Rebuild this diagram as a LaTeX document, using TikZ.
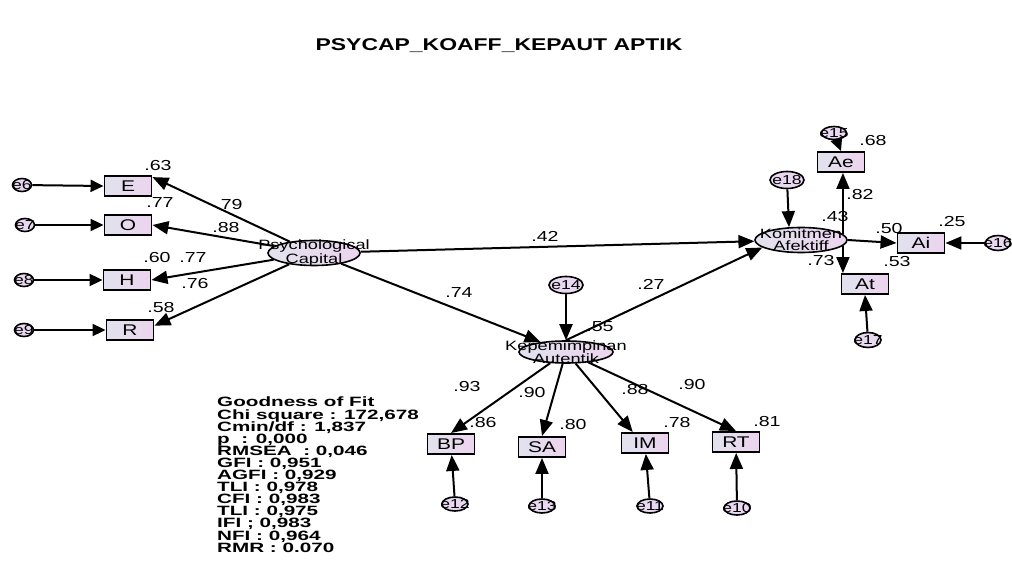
\documentclass[tikz,border=0pt]{standalone}
\usepackage{fontspec}
\setmainfont{Liberation Sans}[FakeStretch=1.35]
\newfontfamily\goffont{Liberation Sans}[FakeStretch=1.53]
\usetikzlibrary{arrows.meta,shapes.geometric,calc}
\definecolor{boxL}{HTML}{E2E2EE}
\definecolor{boxR}{HTML}{ECD4EE}
\definecolor{errF}{HTML}{E8D8F0}
\begin{document}
\begin{tikzpicture}[x=1pt,y=-1pt,
  obs/.style={draw, line width=1.9pt, minimum width=47pt, minimum height=20pt, inner sep=0pt, left color=boxL, right color=boxR, font=\fontsize{15.5}{15}\selectfont},
  lat/.style={ellipse, draw, line width=1.6pt, minimum width=92pt, minimum height=25pt, inner sep=0pt, left color=boxL, right color=boxR},
  lattxt/.style={align=center, font=\fontsize{13.5}{12}\selectfont, inner sep=0pt},
  err/.style={ellipse, draw, line width=1.6pt, fill=errF, minimum width=19pt, minimum height=13pt, inner sep=0pt},
  errbig/.style={err, minimum width=34pt, minimum height=17pt},
  errtxt/.style={font=\fontsize{13}{13}\selectfont, inner sep=0pt},
  val/.style={font=\fontsize{14.5}{14}\selectfont, inner sep=0pt},
  arr/.style={line width=2pt, -{Triangle[length=16pt,width=13pt]}},
  arrs/.style={line width=2pt, -{Triangle[length=13pt,width=12pt]}},
]
\useasboundingbox (0,0) rectangle (1012,585);
\node[font=\bfseries\fontsize{17}{17}\selectfont] (title) at (499,46) {PSYCAP\_KOAFF\_KEPAUT APTIK};

% observed boxes
\node[obs] (E) at (128,186) {E};
\node[obs] (O) at (128,225) {O};
\node[obs] (H) at (127,280) {H};
\node[obs] (R) at (130,330) {R};
\node[obs] (Ae) at (841,162) {Ae};
\node[obs] (Ai) at (921,243) {Ai};
\node[obs] (At) at (865,284) {At};
\node[obs] (BP) at (451,444) {BP};
\node[obs] (SA) at (542,447) {SA};
\node[obs] (IM) at (645,443) {IM};
\node[obs] (RT) at (736,442) {RT};

% latent
\node[lat] (psy) at (314,253) {};
\node[lat] (kom) at (801,240) {};
\node[lat, minimum width=94pt, minimum height=22pt] (kep) at (566,352) {};

% errors
\node[err] (e6) at (22,185) {};
\node[err] (e7) at (25,225) {};
\node[err] (e8) at (24,280) {};
\node[err] (e9) at (24,330) {};
\node[err, minimum width=25pt] (e15) at (834,133) {};
\node[errbig] (e18) at (787,180) {};
\node[errbig] (e14) at (566,285) {};
\node[err, minimum width=26pt, minimum height=15pt] (e17) at (868,340) {};
\node[err, minimum width=25pt, minimum height=15pt] (e16) at (998,243) {};
\node[err, minimum width=26pt, minimum height=14pt] (e12) at (455,504) {};
\node[err, minimum width=26pt, minimum height=14pt] (e13) at (542,506) {};
\node[err, minimum width=26pt, minimum height=14pt] (e11) at (650,506) {};
\node[err, minimum width=26pt, minimum height=14pt] (e10) at (737,508) {};

% connectors
\draw[arrs] (e6) -- (E.west);
\draw[arrs] (e7) -- (O.west);
\draw[arrs] (e8) -- (H.west);
\draw[arrs] (e9) -- (R.west);
\draw[arr] (psy) -- (E.20);
\draw[arr] (psy) -- (O.east);
\draw[arr] (psy) -- (H.east);
\draw[arr] (psy) -- (R.10);
\draw[arr] (psy) -- (kom);
\draw[arr] (psy) -- (kep);
\draw[arr] (kep.north) -- (kom.191);
\draw[arr] (e14) -- (kep);
\draw[arr] (kep) -- (BP.north);
\draw[arr] (kep) -- (SA.north);
\draw[arr] (kep) -- ($(IM.north west)!0.25!(IM.north east)$);
\draw[arr] (kep) -- (RT.north);
\draw[arr] (e12) -- (BP);
\draw[arr] (e13) -- (SA);
\draw[arr] (e11) -- (IM);
\draw[arr] (e10) -- (RT);
\draw[arr] (e18) -- (kom.133);
\draw[arr] (kom.8) -- (kom.8 |- Ae.south);
\draw[arr] (kom.-8) -- (kom.-8 |- At.north);
\draw[arr] (kom.east) -- (Ai.west);
\draw[arrs] (e15) -- (Ae.north);
\draw[arr] (e16) -- (Ai.east);
\draw[arr] (e17) -- (At.south);

% texts in latent / error nodes
\node[lattxt] (psyT) at (psy) {Psychological\\Capital};
\node[lattxt] (komT) at (kom) {Komitmen\\Afektiff};
\node[lattxt] (kepT) at (kep) {Kepemimpinan\\Autentik};
\node[errtxt] (t6) at (e6) {e6};
\node[errtxt] (t7) at (e7) {e7};
\node[errtxt] (t8) at (e8) {e8};
\node[errtxt] (t9) at (e9) {e9};
\node[errtxt] (t15) at (e15) {e15};
\node[errtxt] (t18) at (e18) {e18};
\node[errtxt] (t14) at (e14) {e14};
\node[errtxt] (t17) at (e17) {e17};
\node[errtxt] (t16) at (e16) {e16};
\node[errtxt] (t12) at (e12) {e12};
\node[errtxt] (t13) at (e13) {e13};
\node[errtxt] (t11) at (e11) {e11};
\node[errtxt] (t10) at (e10) {e10};

% values
\node[val] (v1) at (158,166) {.63};
\node[val] (v2) at (229,205) {.79};
\node[val] (v3) at (160,203) {.77};
\node[val] (v4) at (226,228) {.88};
\node[val] (v5) at (157,258) {.60};
\node[val] (v6) at (193,258) {.77};
\node[val] (v7) at (195,284) {.76};
\node[val] (v8) at (161,308) {.58};
\node[val] (v9) at (545,236) {.42};
\node[val] (v10) at (459,293) {.74};
\node[val] (v11) at (651,284) {.27};
\node[val] (v12) at (600,327) {.55};
\node[val] (v13) at (467,387) {.93};
\node[val] (v14) at (483,423) {.86};
\node[val] (v15) at (532,393) {.90};
\node[val] (v16) at (573,425) {.80};
\node[val] (v17) at (635,390) {.88};
\node[val] (v18) at (677,423) {.78};
\node[val] (v19) at (692,385) {.90};
\node[val] (v20) at (767,422) {.81};
\node[val] (v21) at (873,141) {.68};
\node[val] (v22) at (860,195) {.82};
\node[val] (v23) at (835,217) {.43};
\node[val] (v24) at (889,229) {.50};
\node[val] (v25) at (952,222) {.25};
\node[val] (v26) at (821,261) {.73};
\node[val] (v27) at (897,262) {.53};

% goodness of fit
\node[anchor=north west, align=left, inner sep=0pt, font=\goffont\bfseries\fontsize{13.5}{12.1}\selectfont\setlength{\lineskiplimit}{-20pt}] (gof) at (217,397)
 {Goodness of Fit\\Chi square : 172,678\\Cmin/df : 1,837\\p\ \ : 0,000\\RMSEA\ \ : 0,046\\GFI : 0,951\\AGFI : 0,929\\TLI : 0,978\\CFI : 0,983\\TLI : 0,975\\IFI ; 0,983\\NFI : 0,964\\RMR : 0.070};
\end{tikzpicture}
\end{document}
